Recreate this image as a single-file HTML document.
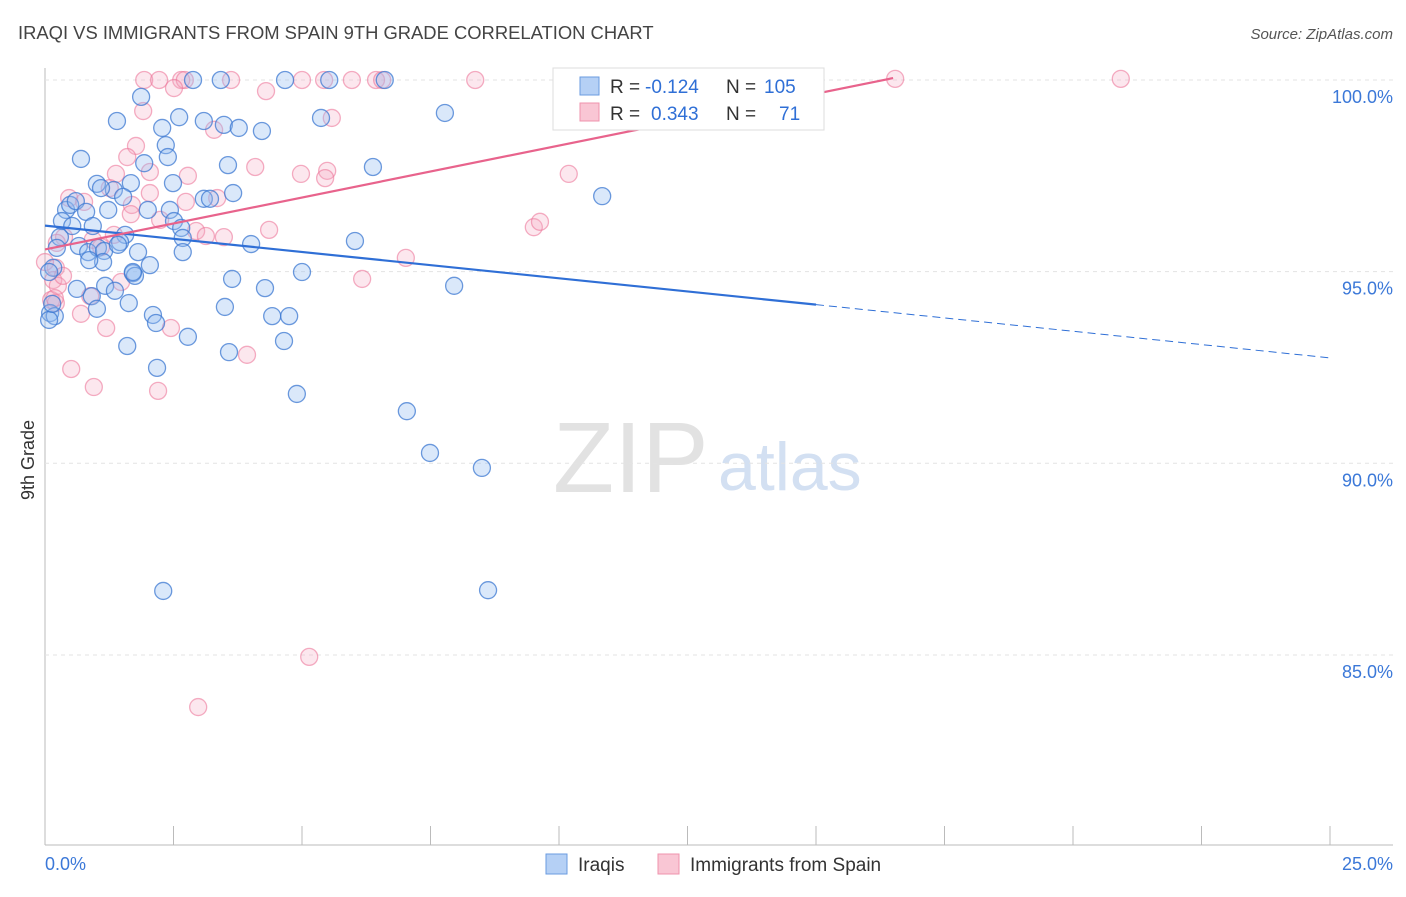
<!DOCTYPE html>
<html><head><meta charset="utf-8"><style>
body{margin:0;background:#fff;font-family:"Liberation Sans",sans-serif}
svg text{font-family:"Liberation Sans",sans-serif}
</style></head><body>
<svg id="c" width="1406" height="892">
<text x="18" y="39" font-size="18.4" fill="#444">IRAQI VS IMMIGRANTS FROM SPAIN 9TH GRADE CORRELATION CHART</text>
<text x="1393" y="39" font-size="15" fill="#555" text-anchor="end" font-style="italic">Source: ZipAtlas.com</text>
<text x="553" y="492" font-size="100" fill="#e2e2e2" font-family="Liberation Serif">ZIP</text>
<text x="718" y="490" font-size="68" fill="#d3e0f2">atlas</text>
<text x="34" y="460" font-size="18" fill="#333" transform="rotate(-90 34 460)" text-anchor="middle">9th Grade</text>
<g id="grid"></g><g id="pts"></g><g id="lines"></g>
<g>
<rect x="553" y="68" width="271" height="62" fill="#fff" stroke="#ddd"/>
<rect x="580" y="77" width="19" height="18" fill="#b5d0f5" stroke="#6a9be0"/>
<rect x="580" y="103" width="19" height="18" fill="#f9c6d4" stroke="#ef93ad"/>
<text x="610" y="93" font-size="19" fill="#333">R =</text>
<text x="645" y="93" font-size="19" fill="#2f6fd6">-0.124</text>
<text x="726" y="93" font-size="19" fill="#333">N =</text>
<text x="764" y="93" font-size="19" fill="#2f6fd6">105</text>
<text x="610" y="120" font-size="19" fill="#333">R =</text>
<text x="651" y="120" font-size="19" fill="#2f6fd6">0.343</text>
<text x="726" y="120" font-size="19" fill="#333">N =</text>
<text x="779" y="120" font-size="19" fill="#2f6fd6">71</text>
</g>
<g>
<rect x="546" y="854" width="21" height="20" fill="#b5d0f5" stroke="#6a9be0"/>
<text x="578" y="871" font-size="19" fill="#333">Iraqis</text>
<rect x="658" y="854" width="21" height="20" fill="#f9c6d4" stroke="#ef93ad"/>
<text x="690" y="871" font-size="19" fill="#333">Immigrants from Spain</text>
</g>
</svg>
<script>
const xTicks=[0,2.5,5,7.5,10,12.5,15,17.5,20,22.5,25];
const yTicks=[100,95,90,85];
const yTickLabels=["100.0%","95.0%","90.0%","85.0%"];
const xEndLabels=["0.0%","25.0%"];
const bluePx=[[221,80],[285,80],[329,80],[193,80],[385,80],[141,97],[117,121],[162,128],[179,117],[204,121],[224,125],[239,128],[262,131],[321,118],[445,113],[81,159],[166,145],[168,157],[144,163],[228,165],[373,167],[97,184],[131,183],[173,183],[233,193],[602,196],[114,190],[123,197],[101,188],[66,210],[70,205],[76,201],[86,212],[108,210],[148,210],[170,210],[204,199],[210,199],[62,221],[72,226],[93,226],[174,221],[181,228],[125,235],[120,242],[60,237],[57,248],[79,246],[88,252],[98,248],[104,251],[118,245],[138,252],[183,238],[183,252],[251,244],[355,241],[103,262],[89,260],[150,265],[53,268],[49,272],[133,273],[135,276],[232,279],[302,272],[454,286],[77,289],[105,286],[115,291],[92,296],[265,288],[129,303],[97,309],[225,307],[153,315],[156,323],[272,316],[289,316],[50,313],[55,316],[49,320],[188,337],[127,346],[229,352],[284,341],[157,368],[297,394],[407,411],[430,453],[482,468],[163,591],[488,590],[133,272],[52,304]];
const pinkPx=[[144,80],[159,80],[181,80],[185,80],[231,80],[302,80],[324,80],[352,80],[376,80],[382,80],[475,80],[662,80],[895,79],[1121,79],[174,88],[266,91],[143,111],[332,118],[214,130],[136,146],[127,157],[255,167],[301,174],[327,171],[325,178],[569,174],[116,174],[150,172],[150,193],[110,188],[69,198],[84,202],[132,205],[186,202],[188,176],[217,198],[131,214],[534,227],[540,222],[269,230],[196,231],[224,237],[206,236],[64,237],[57,243],[101,247],[406,258],[56,268],[53,280],[121,282],[362,279],[90,296],[51,300],[56,303],[81,314],[106,328],[171,328],[247,355],[71,369],[94,387],[158,391],[309,657],[198,707],[58,286],[63,276],[93,240],[45,262],[55,298],[160,220],[114,235]];
const iraqiX=bluePx.map(p=>+((p[0]-45)/51.4).toFixed(2)), iraqiY=bluePx.map(p=>+(100-(p[1]-80)/38.33).toFixed(2));
const spainX=pinkPx.map(p=>+((p[0]-45)/51.4).toFixed(2)), spainY=pinkPx.map(p=>+(100-(p[1]-80)/38.33).toFixed(2));
const blueLine=[[0,96.2],[15,94.14],[25,92.75]];
const pinkLine=[[0,95.58],[16.5,100.05]];
const X=v=>45+v*51.4, Y=v=>80+(100-v)*38.33;
const NS="http://www.w3.org/2000/svg";
function mk(t,a,p){const e=document.createElementNS(NS,t);for(const k in a)e.setAttribute(k,a[k]);document.getElementById(p).appendChild(e);return e;}
let e=mk('line',{x1:45,y1:68,x2:45,y2:845,stroke:'#bbb'},'grid');


e=mk('line',{x1:45,y1:845,x2:1393,y2:845,stroke:'#bbb'},'grid');


yTicks.forEach((v,i)=>{
 e=mk('line',{x1:45,y1:Y(v),x2:1393,y2:Y(v),stroke:'#e3e3e3','stroke-dasharray':'4 4'},'grid');
 
 
 e=mk('text',{x:1393,y:Y(v)+23,'font-size':18,fill:'#3b78d8','text-anchor':'end'},'grid');e.textContent=yTickLabels[i];
 
 
});
xTicks.forEach(v=>{
 e=mk('line',{x1:X(v),y1:826,x2:X(v),y2:845,stroke:'#bbb'},'grid');
 
 
});
e=mk('text',{x:45,y:870,'font-size':18,fill:'#3b78d8'},'grid');e.textContent=xEndLabels[0];


e=mk('text',{x:1393,y:870,'font-size':18,fill:'#3b78d8','text-anchor':'end'},'grid');e.textContent=xEndLabels[1];


spainX.forEach((x,i)=>{
 e=mk('circle',{cx:X(x),cy:Y(spainY[i]),r:8.5,fill:'rgba(246,170,195,0.28)',stroke:'rgba(236,120,155,0.6)','stroke-width':1.3},'pts');
 
 
});
iraqiX.forEach((x,i)=>{
 e=mk('circle',{cx:X(x),cy:Y(iraqiY[i]),r:8.5,fill:'rgba(150,190,240,0.35)',stroke:'rgba(60,120,210,0.75)','stroke-width':1.3},'pts');
 
 
});
e=mk('line',{x1:X(blueLine[0][0]),y1:Y(blueLine[0][1]),x2:X(blueLine[1][0]),y2:Y(blueLine[1][1]),stroke:'#2f6fd6','stroke-width':2.2},'lines');


e=mk('line',{x1:X(blueLine[1][0]),y1:Y(blueLine[1][1]),x2:X(blueLine[2][0]),y2:Y(blueLine[2][1]),stroke:'#2f6fd6','stroke-width':1,'stroke-dasharray':'8 5'},'lines');


e=mk('line',{x1:X(pinkLine[0][0]),y1:Y(pinkLine[0][1]),x2:X(pinkLine[1][0]),y2:Y(pinkLine[1][1]),stroke:'#e8638c','stroke-width':2.2},'lines');


</script>
</body></html>
